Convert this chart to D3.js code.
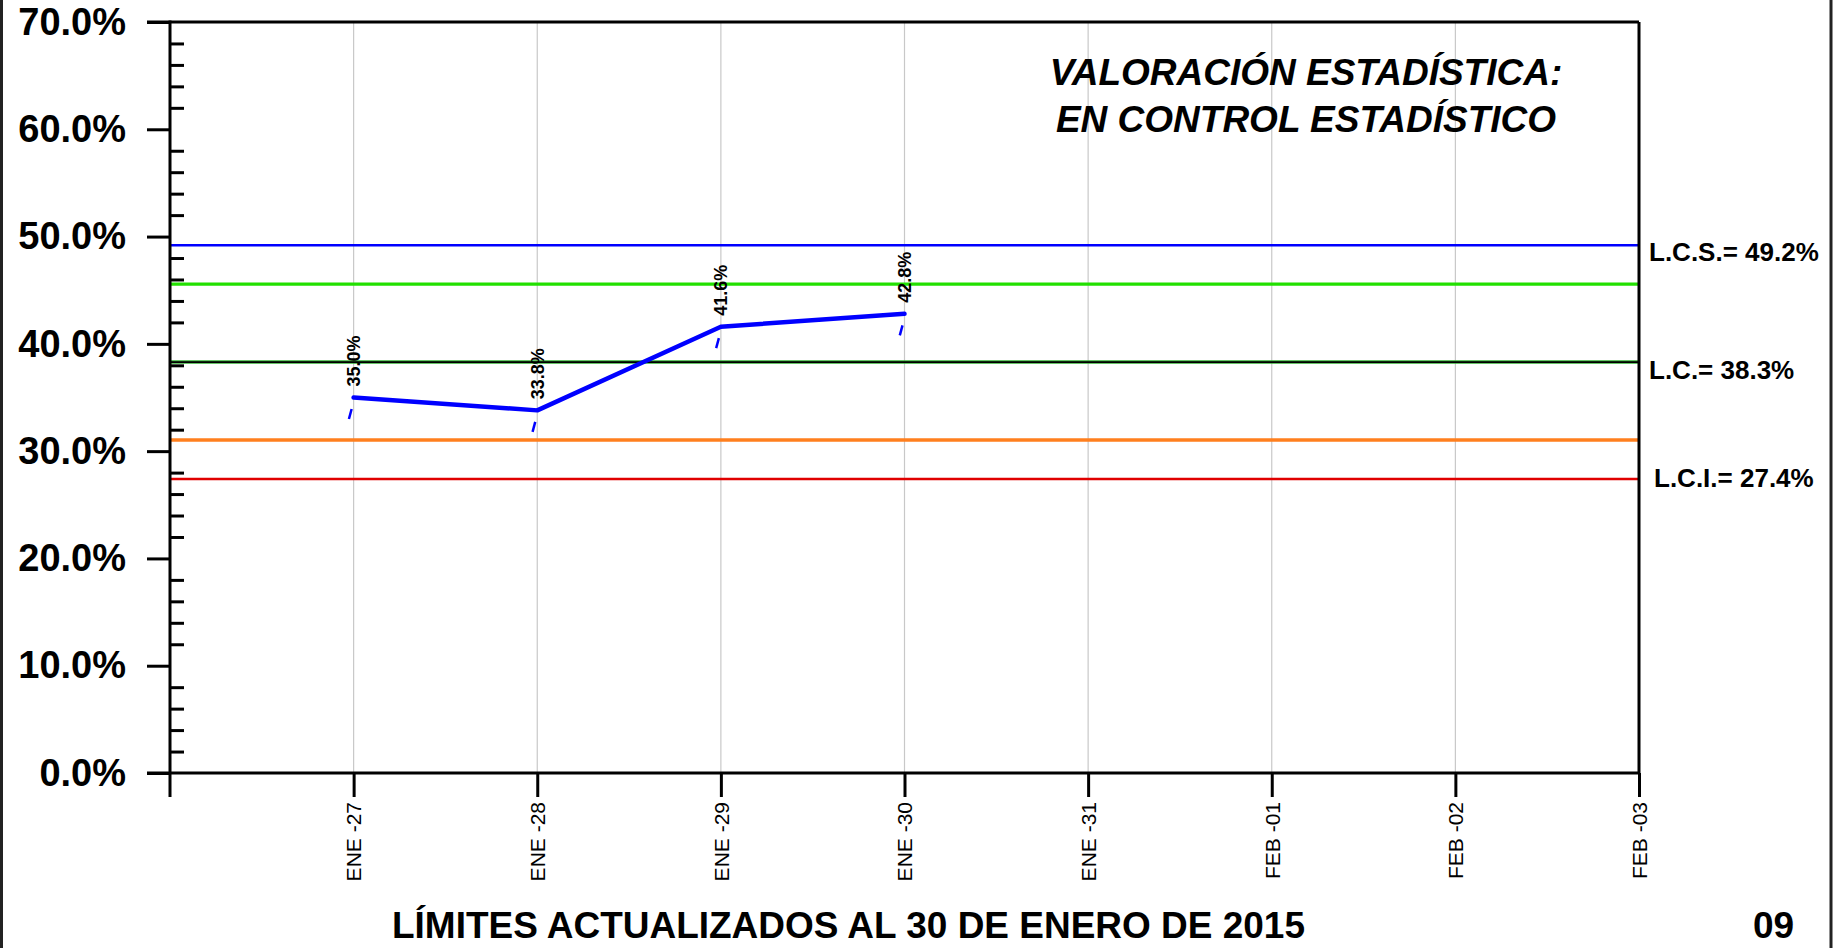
<!DOCTYPE html>
<html>
<head>
<meta charset="utf-8">
<script src="https://cdn.jsdelivr.net/npm/d3@7"></script>
<style>
  html, body { margin: 0; padding: 0; background: #fff; }
  svg { display: block; font-family: "Liberation Sans", Arial, sans-serif; }
</style>
</head>
<body>
<svg id="chart" width="1841" height="948"></svg>
<script>
// ---- data ----
const categories = ["ENE -27", "ENE -28", "ENE -29", "ENE -30", "ENE -31", "FEB -01", "FEB -02", "FEB -03"];
const values = [35.0, 33.8, 41.6, 42.8];
const yTicks = [0, 10, 20, 30, 40, 50, 60, 70];
const lcs = 49.2;
const lc = 38.3;
const lci = 27.4;
const upperWarn = 45.57;
const lowerWarn = 31.03;
const limitLabels = ["L.C.S.= 49.2%", "L.C.= 38.3%", "L.C.I.= 27.4%"];
const titleText = "LÍMITES ACTUALIZADOS AL 30 DE ENERO DE 2015";
const pageNum = "09";
const noteLines = ["VALORACIÓN ESTADÍSTICA:", "EN CONTROL ESTADÍSTICO"];

(function () {
// ---- layout ----
const svg = d3.select("#chart");
const pLeft = 170, pRight = 1639, pTop = 22, pBottom = 773;
const x = d3.scaleLinear().domain([0, categories.length]).range([pLeft, pRight]);
const y = d3.scaleLinear().domain([0, 70]).range([pBottom, pTop]);

// outer frame
svg.append("rect").attr("x", 1.5).attr("y", -10).attr("width", 1829.5).attr("height", 975)
  .attr("fill", "none").attr("stroke", "#222").attr("stroke-width", 3);

// vertical grid
svg.append("g").selectAll("line").data(categories).join("line")
  .attr("x1", (d, i) => x(i + 1)).attr("x2", (d, i) => x(i + 1))
  .attr("y1", pTop).attr("y2", pBottom)
  .attr("stroke", "#c8c8c8").attr("stroke-width", 1.2);

// limit lines
function hline(v, color, w) {
  svg.append("line").attr("x1", pLeft).attr("x2", pRight)
    .attr("y1", y(v)).attr("y2", y(v))
    .attr("stroke", color).attr("stroke-width", w);
}
hline(lcs, "#0000ff", 2.5);
hline(upperWarn, "#22e000", 3.2);
hline(lc, "#33b033", 3.5);
hline(lc, "#000000", 1.8);
hline(lowerWarn, "#ff7f1e", 3.5);
hline(lci, "#e00000", 2.5);

// frame lines of plot
svg.append("line").attr("x1", 147).attr("x2", pRight).attr("y1", pTop).attr("y2", pTop)
  .attr("stroke", "#000").attr("stroke-width", 3);
svg.append("line").attr("x1", pRight).attr("x2", pRight).attr("y1", pTop).attr("y2", pBottom)
  .attr("stroke", "#000").attr("stroke-width", 3);

// y axis major
const yAxis = d3.axisLeft(y).tickValues(yTicks).tickSize(23).tickPadding(21)
  .tickFormat(d => d.toFixed(1) + "%");
const gy = svg.append("g").attr("transform", `translate(${pLeft},0)`).call(yAxis);
gy.select(".domain").remove();
gy.selectAll(".tick line").attr("stroke", "#000").attr("stroke-width", 3);
gy.selectAll(".tick text").attr("font-size", 38).attr("font-weight", "bold")
  .attr("fill", "#000").attr("font-family", "Liberation Sans, Arial, sans-serif");

// y minor ticks
const minorVals = d3.range(0, 71, 2).filter(v => v % 10 !== 0);
const gym = svg.append("g").attr("transform", `translate(${pLeft},0)`)
  .call(d3.axisRight(y).tickValues(minorVals).tickSize(14).tickFormat(""));
gym.select(".domain").remove();
gym.selectAll(".tick line").attr("stroke", "#000").attr("stroke-width", 3);

// x axis
const xAxis = d3.axisBottom(x).tickValues(d3.range(1, categories.length + 1))
  .tickSize(24).tickFormat(i => categories[i - 1]);
const gx = svg.append("g").attr("transform", `translate(0,${pBottom})`).call(xAxis);
gx.select(".domain").remove();
gx.selectAll(".tick line").attr("stroke", "#000").attr("stroke-width", 3);
gx.selectAll(".tick text")
  .attr("font-size", 21).attr("fill", "#000")
  .attr("font-family", "Liberation Sans, Arial, sans-serif")
  .attr("transform", "rotate(-90)")
  .attr("x", -29).attr("y", 0).attr("dy", "0.35em")
  .attr("text-anchor", "end");

// axis lines
svg.append("line").attr("x1", 147).attr("x2", pRight).attr("y1", pBottom).attr("y2", pBottom)
  .attr("stroke", "#000").attr("stroke-width", 3);
svg.append("line").attr("x1", pLeft).attr("x2", pLeft).attr("y1", pTop - 1.5).attr("y2", pBottom + 24)
  .attr("stroke", "#000").attr("stroke-width", 3);

// data line
const line = d3.line().x((d, i) => x(i + 1)).y(d => y(d));
svg.append("path").datum(values).attr("d", line)
  .attr("fill", "none").attr("stroke", "#0000ff").attr("stroke-width", 4.5)
  .attr("stroke-linejoin", "round").attr("stroke-linecap", "round");

// small dash marks below points
svg.append("g").selectAll("line").data(values).join("line")
  .attr("x1", (d, i) => x(i + 1) - 2).attr("y1", d => y(d) + 11.5)
  .attr("x2", (d, i) => x(i + 1) - 4.7).attr("y2", d => y(d) + 21.5)
  .attr("stroke", "#0000ff").attr("stroke-width", 2.5);

// data labels
svg.append("g").selectAll("text").data(values).join("text")
  .attr("transform", (d, i) => `translate(${x(i + 1)},${y(d) - 11}) rotate(-90)`)
  .attr("dy", "0.35em").attr("text-anchor", "start")
  .attr("font-size", 18).attr("font-weight", "bold").attr("fill", "#000")
  .text(d => d.toFixed(1) + "%");

// limit labels
const limVals = [lcs, lc, lci];
const limOff = [7, 8, -1];
const limX = [1649, 1649, 1654];
svg.append("g").selectAll("text").data(limitLabels).join("text")
  .attr("x", (d, i) => limX[i]).attr("y", (d, i) => y(limVals[i]) + limOff[i])
  .attr("dy", "0.35em").attr("font-size", 26).attr("font-weight", "bold").attr("fill", "#000")
  .text(d => d);

// annotation
svg.append("g").selectAll("text").data(noteLines).join("text")
  .attr("x", 1306).attr("y", (d, i) => 85 + i * 47)
  .attr("text-anchor", "middle").attr("font-size", 37)
  .attr("font-weight", "bold").attr("font-style", "italic").attr("fill", "#000")
  .text(d => d);

// bottom title
svg.append("text").attr("x", 392).attr("y", 938)
  .attr("font-size", 37).attr("font-weight", "bold").attr("fill", "#000")
  .attr("textLength", 913).attr("lengthAdjust", "spacingAndGlyphs")
  .text(titleText);
svg.append("text").attr("x", 1753).attr("y", 938)
  .attr("font-size", 37).attr("font-weight", "bold").attr("fill", "#000")
  .text(pageNum);
})();
</script>
</body>
</html>
